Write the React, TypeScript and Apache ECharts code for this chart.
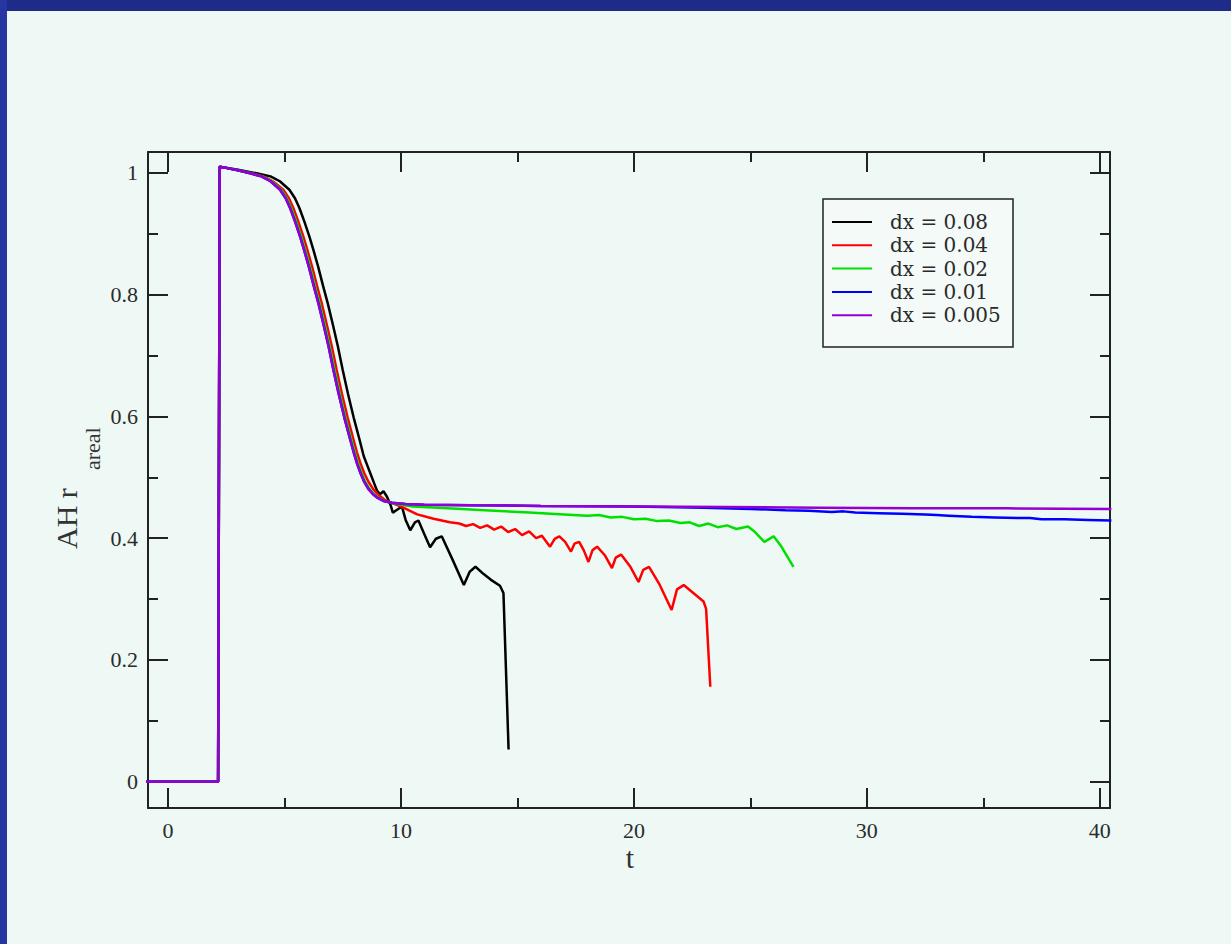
import React, { useEffect, useRef } from 'react';
import * as echarts from 'echarts';

// ---- data ----
const legendNames = ['dx = 0.08', 'dx = 0.04', 'dx = 0.02', 'dx = 0.01', 'dx = 0.005'];
const seriesColors = ['#000000', '#ff0000', '#00e000', '#0000ff', '#9400d3'];

const xTickLabels = ['0', '10', '20', '30', '40'];
const yTickLabels = ['0', '0.2', '0.4', '0.6', '0.8', '1'];

const dx008: number[][] = [
  [-1, 0], [2.15, 0], [2.22, 1.01], [3.0, 1.005], [3.8, 0.999], [4.4, 0.994], [4.8, 0.986], [5.21, 0.972],
  [5.45, 0.958], [5.64, 0.942], [5.85, 0.92], [6.07, 0.895], [6.25, 0.872], [6.45, 0.845], [6.65, 0.815],
  [6.86, 0.785], [7.08, 0.75], [7.29, 0.715], [7.5, 0.676], [7.72, 0.638], [7.97, 0.598], [8.22, 0.562],
  [8.4, 0.535], [8.55, 0.52], [8.7, 0.505], [8.85, 0.49], [8.97, 0.478], [9.1, 0.472], [9.25, 0.477],
  [9.4, 0.468], [9.55, 0.455], [9.65, 0.442], [9.85, 0.447], [10.04, 0.452], [10.2, 0.43], [10.4, 0.413],
  [10.6, 0.426], [10.75, 0.429], [11.0, 0.407], [11.25, 0.385], [11.5, 0.399], [11.75, 0.403],
  [12.2, 0.366], [12.7, 0.323], [12.95, 0.345], [13.2, 0.353], [13.55, 0.341], [13.85, 0.332],
  [14.25, 0.322], [14.4, 0.31], [14.62, 0.053],
];

const dx004: number[][] = [
  [-1, 0], [2.15, 0], [2.22, 1.01], [3.0, 1.004], [3.6, 0.999], [4.1, 0.994], [4.5, 0.986], [4.95, 0.972],
  [5.19, 0.958], [5.38, 0.942], [5.59, 0.92], [5.81, 0.895], [5.99, 0.872], [6.19, 0.845], [6.39, 0.815],
  [6.6, 0.785], [6.82, 0.75], [7.03, 0.715], [7.24, 0.676], [7.46, 0.638], [7.71, 0.598], [7.96, 0.562],
  [8.11, 0.541], [8.26, 0.523], [8.42, 0.507], [8.6, 0.493], [8.8, 0.481], [9.0, 0.472], [9.3, 0.463],
  [9.65, 0.457], [10.0, 0.452], [10.7, 0.439], [11.4, 0.432], [12.1, 0.426], [12.5, 0.424], [12.8, 0.42],
  [13.1, 0.423], [13.4, 0.417], [13.7, 0.421], [14.0, 0.414], [14.3, 0.419], [14.6, 0.41], [14.9, 0.415],
  [15.2, 0.405], [15.5, 0.411], [15.8, 0.4], [16.05, 0.404], [16.4, 0.386], [16.6, 0.399], [16.8, 0.403],
  [17.05, 0.394], [17.3, 0.378], [17.45, 0.391], [17.65, 0.394], [17.85, 0.38], [18.05, 0.361],
  [18.22, 0.38], [18.42, 0.386], [18.75, 0.372], [19.06, 0.351], [19.22, 0.368], [19.45, 0.373],
  [19.85, 0.353], [20.2, 0.328], [20.4, 0.348], [20.65, 0.353], [21.1, 0.324], [21.62, 0.282],
  [21.85, 0.316], [22.14, 0.323], [22.55, 0.31], [22.99, 0.296], [23.1, 0.284], [23.28, 0.156],
];

const dx002: number[][] = [
  [-1, 0], [2.15, 0], [2.22, 1.01], [3.0, 1.004], [3.55, 0.999], [4.05, 0.994], [4.45, 0.986], [4.86, 0.972],
  [5.1, 0.958], [5.29, 0.942], [5.5, 0.92], [5.72, 0.895], [5.9, 0.872], [6.1, 0.845], [6.3, 0.815],
  [6.51, 0.785], [6.73, 0.75], [6.94, 0.715], [7.15, 0.676], [7.37, 0.638], [7.62, 0.598], [7.87, 0.562],
  [8.02, 0.541], [8.17, 0.522], [8.32, 0.506], [8.48, 0.492], [8.65, 0.481], [8.85, 0.472], [9.05, 0.466],
  [9.3, 0.461], [9.7, 0.457], [10.5, 0.452], [12.0, 0.449], [14.0, 0.445], [15.5, 0.442], [17.0, 0.439],
  [18.0, 0.437], [18.5, 0.438], [19.0, 0.434], [19.5, 0.435], [20.0, 0.431], [20.5, 0.432], [21.0, 0.428],
  [21.5, 0.429], [22.0, 0.425], [22.4, 0.426], [22.8, 0.42], [23.2, 0.424], [23.6, 0.418], [24.0, 0.421],
  [24.4, 0.415], [24.9, 0.419], [25.2, 0.41], [25.6, 0.394], [26.0, 0.403], [26.3, 0.388], [26.85, 0.353],
];

const dx001: number[][] = [
  [-1, 0], [2.15, 0], [2.22, 1.01], [3.0, 1.004], [3.52, 0.999], [4.0, 0.994], [4.4, 0.986], [4.81, 0.972],
  [5.05, 0.958], [5.24, 0.942], [5.45, 0.92], [5.67, 0.895], [5.85, 0.872], [6.05, 0.845], [6.25, 0.815],
  [6.46, 0.785], [6.68, 0.75], [6.89, 0.715], [7.1, 0.676], [7.32, 0.638], [7.57, 0.598], [7.82, 0.562],
  [7.97, 0.541], [8.12, 0.522], [8.27, 0.506], [8.43, 0.492], [8.6, 0.481], [8.8, 0.472], [9.0, 0.466],
  [9.25, 0.461], [9.6, 0.458], [10.2, 0.456], [11.0, 0.455], [13.0, 0.454], [16.0, 0.453],
  [20.0, 0.452], [23.0, 0.45], [25.0, 0.448], [26.5, 0.446], [27.5, 0.445], [28.5, 0.443], [29.0, 0.444],
  [29.5, 0.442], [30.5, 0.441], [31.5, 0.44], [32.5, 0.439], [33.0, 0.438], [33.5, 0.437], [34.5, 0.435],
  [35.5, 0.434], [36.5, 0.433], [37.0, 0.433], [37.5, 0.431], [38.5, 0.431], [39.5, 0.43], [40.5, 0.429],
];

const dx0005: number[][] = [
  [-1, 0], [2.15, 0], [2.22, 1.01], [3.0, 1.004], [3.52, 0.999], [4.0, 0.994], [4.4, 0.986], [4.81, 0.972],
  [5.05, 0.958], [5.24, 0.942], [5.45, 0.92], [5.67, 0.895], [5.85, 0.872], [6.05, 0.845], [6.25, 0.815],
  [6.46, 0.785], [6.68, 0.75], [6.89, 0.715], [7.1, 0.676], [7.32, 0.638], [7.57, 0.598], [7.82, 0.562],
  [7.97, 0.541], [8.12, 0.522], [8.27, 0.506], [8.43, 0.492], [8.6, 0.481], [8.8, 0.472], [9.0, 0.466],
  [9.25, 0.461], [9.6, 0.458], [10.2, 0.456], [11.0, 0.455], [13.0, 0.454], [16.0, 0.453],
  [20.0, 0.452], [24.0, 0.451], [28.0, 0.45], [32.0, 0.449], [36.0, 0.449], [40.5, 0.448],
];

const seriesData = [dx008, dx004, dx002, dx001, dx0005];

const X_MIN = -0.86;
const X_MAX = 40.44;
const Y_MIN = -0.043;
const Y_MAX = 1.034;

const AXIS_COLOR = '#222222';
const LABEL_COLOR = '#2b2b2b';
const SERIF = '"Liberation Serif", "DejaVu Serif", serif';

function xLabel(v: number): string {
  const k = Math.round(v / 10);
  if (Math.abs(v / 10 - k) > 1e-6) return '';
  return xTickLabels[k] ?? '';
}
function yLabel(v: number): string {
  const k = Math.round(v * 5);
  if (Math.abs(v * 5 - k) > 1e-6) return '';
  return yTickLabels[k] ?? '';
}

const tickCommon = {
  axisLine: { show: true, onZero: false, lineStyle: { color: AXIS_COLOR, width: 2 } },
  axisTick: { show: true, inside: true, length: 20, lineStyle: { color: AXIS_COLOR, width: 2 } },
  minorTick: { show: true, splitNumber: 2, length: 10, lineStyle: { color: AXIS_COLOR, width: 2 } },
  splitLine: { show: false },
  minorSplitLine: { show: false },
};

export default function App() {
  const ref = useRef<HTMLDivElement>(null);
  useEffect(() => {
    if (!ref.current) return;
    const chart = echarts.init(ref.current, null, { renderer: 'svg' });
    const option: any = {
      animation: false,
      backgroundColor: '#eef8f4',
      grid: { left: 148, top: 152, right: 121, bottom: 136, containLabel: false },
      xAxis: [
        {
          type: 'value', position: 'bottom', min: X_MIN, max: X_MAX, splitNumber: 4,
          ...tickCommon,
          axisLabel: { show: true, formatter: xLabel, fontFamily: SERIF, fontSize: 22, color: LABEL_COLOR, margin: 11 },
        },
        {
          type: 'value', position: 'top', min: X_MIN, max: X_MAX, splitNumber: 4,
          ...tickCommon,
          axisLabel: { show: false },
        },
      ],
      yAxis: [
        {
          type: 'value', position: 'left', min: Y_MIN, max: Y_MAX, splitNumber: 5,
          ...tickCommon,
          axisLabel: { show: true, formatter: yLabel, fontFamily: SERIF, fontSize: 22, color: LABEL_COLOR, margin: 10 },
        },
        {
          type: 'value', position: 'right', min: Y_MIN, max: Y_MAX, splitNumber: 5,
          ...tickCommon,
          axisLabel: { show: false },
        },
      ],
      legend: {
        show: true,
        orient: 'vertical',
        left: 832,
        top: 212,
        padding: 0,
        itemGap: 3.3,
        itemWidth: 40,
        itemHeight: 2,
        icon: 'rect',
        data: legendNames,
        textStyle: {
          fontFamily: '"DejaVu Serif", serif',
          fontSize: 20,
          lineHeight: 20,
          color: '#2a2a2a',
          padding: [0, 0, 0, 13],
        },
      },
      graphic: [
        { type: 'rect', z: -10, silent: true, shape: { x: 0, y: 0, width: 1231, height: 11 }, style: { fill: '#1e2b88' } },
        { type: 'rect', z: -10, silent: true, shape: { x: 0, y: 0, width: 7, height: 944 }, style: { fill: '#2536a0' } },
        {
          type: 'rect', z: 1, silent: true,
          shape: { x: 823, y: 199, width: 190, height: 148 },
          style: { fill: '#f3faf7', stroke: '#222222', lineWidth: 1.5 },
        },
        {
          type: 'text', x: 630, y: 857, silent: true,
          style: { text: 't', font: '30px "Liberation Serif", serif', fill: '#333333', textAlign: 'center', textVerticalAlign: 'middle' },
        },
        {
          type: 'text', x: 66, y: 549, rotation: Math.PI / 2, silent: true,
          style: { text: 'AH r', font: '30px "Liberation Serif", serif', fill: '#333333', textAlign: 'left', textVerticalAlign: 'middle' },
        },
        {
          type: 'text', x: 92, y: 470, rotation: Math.PI / 2, silent: true,
          style: { text: 'areal', font: '22px "Liberation Serif", serif', fill: '#333333', textAlign: 'left', textVerticalAlign: 'middle' },
        },
      ],
      series: seriesData.map((d, i) => ({
        name: legendNames[i],
        type: 'line',
        xAxisIndex: 0,
        yAxisIndex: 0,
        data: d,
        showSymbol: false,
        symbol: 'none',
        clip: true,
        z: 2 + i,
        lineStyle: { color: seriesColors[i], width: 2.5 },
        itemStyle: { color: seriesColors[i] },
      })),
    };
    chart.setOption(option);
    return () => chart.dispose();
  }, []);
  return <div ref={ref} style={{ position: 'fixed', left: 0, top: 0, width: 1231, height: 944 }} />;
}
